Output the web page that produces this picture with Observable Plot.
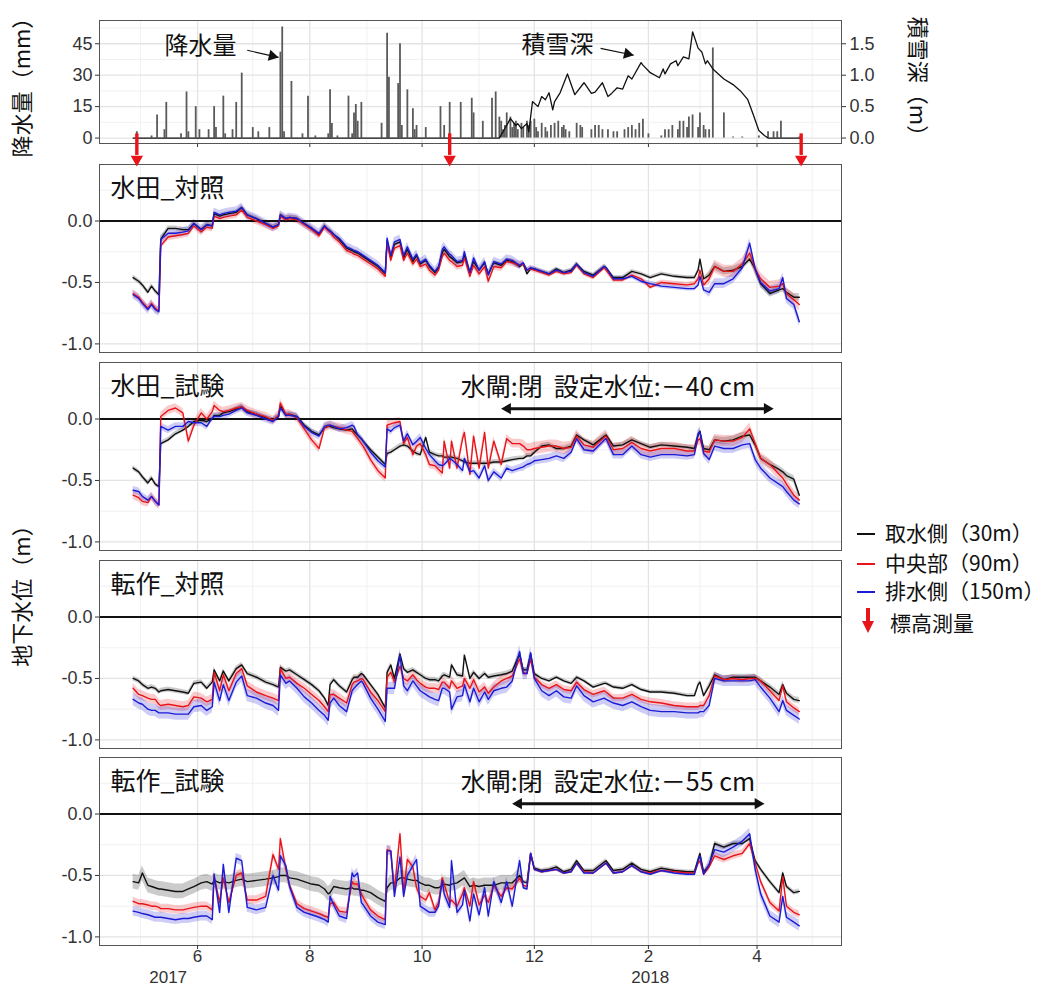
<!DOCTYPE html>
<html><head><meta charset="utf-8">
<script src="https://cdn.jsdelivr.net/npm/d3@7"></script>
<script src="https://cdn.jsdelivr.net/npm/@observablehq/plot@0.6"></script>
<style>
body{margin:0;background:#fff;}
#chart{position:relative;width:1048px;height:989px;overflow:hidden;font-family:"Noto Sans CJK JP",sans-serif;}
.pw{position:absolute;left:0;}
.pw svg{overflow:visible;}
.lg{position:absolute;left:857px;font-size:21px;line-height:26px;color:#111;white-space:nowrap;font-family:"Noto Sans CJK JP",sans-serif;}
.lg .sw{display:inline-block;width:18px;height:2px;vertical-align:middle;margin-right:10px;position:relative;top:-1px;}
</style></head>
<body>
<div id="chart">
  <div class="lg" style="top:519px"><span class="sw" style="background:#111"></span>取水側（30m）</div>
  <div class="lg" style="top:549px"><span class="sw" style="background:#e8141a"></span>中央部（90m）</div>
  <div class="lg" style="top:577px"><span class="sw" style="background:#1c1cd6"></span>排水側（150m）</div>
  <div style="position:absolute;left:866px;top:608px;width:3.5px;height:14px;background:#e8141a"></div>
  <div style="position:absolute;left:862px;top:621px;width:0;height:0;border-left:6px solid transparent;border-right:6px solid transparent;border-top:12px solid #e8141a"></div>
  <div class="lg" style="top:609px;left:890px">標高測量</div>
</div>
<script>
// ---------- data ----------
const seriesNames = ["取水側（30m）", "中央部（90m）", "排水側（150m）"];
const lineColors = ["#111111", "#e8141a", "#1c1cd6"];
const panelTitles = ["水田_対照", "水田_試験", "転作_対照", "転作_試験"];
const majorMonths = ["2017-06-01","2017-08-01","2017-10-01","2017-12-01","2018-02-01","2018-04-01"];
const minorMonths = ["2017-05-01","2017-07-01","2017-09-01","2017-11-01","2018-01-01","2018-03-01","2018-05-01"];
const yearLabels = ["2017", "2018"];
const yearLabelDates = ["2017-05-16", "2018-02-02"];
const gwTicks = [0, -0.5, -1];
const gwMinor = [0.25, -0.25, -0.75];
const precipTicks = [0, 15, 30, 45];
const precipMinor = [7.5, 22.5, 37.5, 52.5];
const surveyDates = ["2017-04-29", "2017-10-16", "2018-04-25"];
const gate2 = ["2017-11-13", "2018-04-10"];
const gate4 = ["2017-11-19", "2018-04-05"];
const gate2Text = "水閘:閉\u00A0\u00A0設定水位:－40 cm";
const gate4Text = "水閘:閉\u00A0\u00A0設定水位:－55 cm";

const precipDates = ["2017-04-29","2017-05-07","2017-05-10","2017-05-14","2017-05-15","2017-05-23","2017-05-26","2017-05-27","2017-05-31","2017-06-02",
"2017-06-07","2017-06-10","2017-06-11","2017-06-15","2017-06-16","2017-06-20","2017-06-22","2017-06-25","2017-07-01","2017-07-04",
"2017-07-10","2017-07-16","2017-07-17","2017-07-18","2017-07-22","2017-07-28","2017-07-31","2017-08-04","2017-08-11","2017-08-12",
"2017-08-13","2017-08-16","2017-08-22","2017-08-24","2017-08-25","2017-08-26","2017-08-27","2017-08-29","2017-09-09","2017-09-12",
"2017-09-13","2017-09-18","2017-09-19","2017-09-20","2017-09-23","2017-09-26","2017-09-27","2017-09-28","2017-10-03","2017-10-11",
"2017-10-13","2017-10-16","2017-10-22","2017-10-28","2017-10-29","2017-11-03","2017-11-08","2017-11-10","2017-11-12","2017-11-13",
"2017-11-14","2017-11-15","2017-11-16","2017-11-18","2017-11-19","2017-11-20","2017-11-21","2017-11-22","2017-11-24","2017-11-25",
"2017-11-27","2017-11-28","2017-11-29","2017-12-01","2017-12-02","2017-12-03","2017-12-05","2017-12-07","2017-12-08","2017-12-10",
"2017-12-12","2017-12-14","2017-12-16","2017-12-17","2017-12-18","2017-12-20","2017-12-24","2017-12-26","2017-12-27","2018-01-01",
"2018-01-03","2018-01-05","2018-01-07","2018-01-10","2018-01-13","2018-01-15","2018-01-19","2018-01-21","2018-01-23","2018-01-25",
"2018-01-27","2018-01-29","2018-02-01","2018-02-08","2018-02-10","2018-02-12","2018-02-14","2018-02-17","2018-02-18","2018-02-20",
"2018-02-22","2018-02-23","2018-02-25","2018-02-28","2018-03-01","2018-03-03","2018-03-04","2018-03-06","2018-03-08","2018-03-14",
"2018-03-19","2018-03-24","2018-04-02","2018-04-07","2018-04-10","2018-04-12","2018-04-14","2018-04-24"];
const precipMm = [3,1,11,4,17,2,22,3,15,4,
4,15,5,20,2,4,17,31,5,3,
5,41,53,3,27,2,20,1,2,23,
7,1,20,2,12,16,8,17,7,50,
29,26,45,6,23,14,4,6,5,15,
6,17,17,19,12,8,19,22,10,8,
4,6,12,10,5,7,8,4,7,5,
8,6,8,9,5,3,7,5,3,6,
7,8,5,6,4,3,7,6,5,4,
6,6,4,4,3,3,4,5,6,4,
7,9,2,1,4,4,6,4,8,8,
5,10,11,5,12,6,4,4,43,12,
0.5,0.5,1,3,3,3,8,0.5];

const snowDates = ["2017-04-27","2017-11-12","2017-11-15","2017-11-18","2017-11-21","2017-11-22","2017-11-24","2017-11-27","2017-11-28","2017-11-30",
"2017-12-03","2017-12-05","2017-12-07","2017-12-09","2017-12-11","2017-12-12","2017-12-15","2017-12-19","2017-12-23","2017-12-28",
"2018-01-01","2018-01-03","2018-01-07","2018-01-10","2018-01-12","2018-01-15","2018-01-18","2018-01-21","2018-01-23","2018-01-28",
"2018-01-29","2018-02-02","2018-02-07","2018-02-09","2018-02-10","2018-02-13","2018-02-16","2018-02-17","2018-02-20","2018-02-23",
"2018-02-25","2018-02-28","2018-03-02","2018-03-04","2018-03-05","2018-03-08","2018-03-14","2018-03-19","2018-03-23","2018-03-27",
"2018-03-30","2018-04-02","2018-04-05","2018-04-07","2018-04-25"];
const snowDepth = [0,0,0.15,0.31,0.20,0.23,0.15,0.23,0.10,0.58,
0.50,0.66,0.61,0.72,0.45,0.58,0.72,1.02,0.69,0.88,
0.71,0.73,0.88,0.66,0.71,0.80,0.78,0.99,0.94,1.20,
1.16,1.04,0.96,1.10,1.02,1.18,1.23,1.15,1.29,1.26,
1.69,1.43,1.37,1.18,1.23,1.10,0.94,0.85,0.75,0.61,
0.37,0.12,0.04,0,0];

const gridDates = [
"2017-04-27","2017-04-30","2017-05-02","2017-05-05","2017-05-07","2017-05-09","2017-05-11","2017-05-12","2017-05-16","2017-05-20",
"2017-05-24","2017-05-27","2017-05-30","2017-06-03","2017-06-06","2017-06-09","2017-06-10","2017-06-13","2017-06-15","2017-06-18",
"2017-06-22","2017-06-25","2017-06-28","2017-07-03","2017-07-08","2017-07-12","2017-07-15","2017-07-16","2017-07-19","2017-07-21",
"2017-07-25","2017-07-29","2017-08-02","2017-08-06","2017-08-09","2017-08-11","2017-08-12","2017-08-14","2017-08-17","2017-08-21",
"2017-08-24","2017-08-25","2017-08-27","2017-08-29","2017-08-30","2017-09-03","2017-09-07","2017-09-11","2017-09-12","2017-09-14",
"2017-09-16","2017-09-19","2017-09-21","2017-09-23","2017-09-26","2017-09-28","2017-09-30","2017-10-03","2017-10-05","2017-10-08",
"2017-10-10","2017-10-12","2017-10-13","2017-10-16","2017-10-17","2017-10-20","2017-10-23","2017-10-24","2017-10-27","2017-10-29",
"2017-11-01","2017-11-04","2017-11-06","2017-11-09","2017-11-13","2017-11-16","2017-11-19","2017-11-23","2017-11-25","2017-11-27",
"2017-11-29","2017-12-01","2017-12-05","2017-12-09","2017-12-13","2017-12-17","2017-12-21","2017-12-24","2017-12-28","2018-01-02",
"2018-01-08","2018-01-09","2018-01-13","2018-01-18","2018-01-23","2018-01-28","2018-02-02","2018-02-08","2018-02-15","2018-02-22",
"2018-02-26","2018-02-28","2018-03-01","2018-03-03","2018-03-06","2018-03-09","2018-03-14","2018-03-19","2018-03-24","2018-03-28",
"2018-03-31","2018-04-03","2018-04-08","2018-04-13","2018-04-15","2018-04-17","2018-04-21","2018-04-24"];

// 水田_対照
const p1Intake = [-0.46,-0.49,-0.52,-0.58,-0.53,-0.57,-0.60,-0.15,-0.06,-0.06,
-0.07,-0.07,-0.02,-0.07,-0.03,-0.04,0.06,0.04,0.05,0.06,
0.07,0.11,0.05,0.02,-0.02,-0.05,-0.03,0.05,0.02,0.03,
0.02,-0.02,-0.06,-0.11,-0.04,-0.07,-0.08,-0.11,-0.15,-0.22,
-0.24,-0.25,-0.26,-0.28,-0.29,-0.33,-0.37,-0.43,-0.16,-0.30,
-0.19,-0.17,-0.30,-0.23,-0.33,-0.28,-0.35,-0.32,-0.37,-0.42,
-0.38,-0.26,-0.23,-0.29,-0.30,-0.34,-0.33,-0.28,-0.42,-0.33,
-0.40,-0.34,-0.43,-0.34,-0.36,-0.32,-0.33,-0.37,-0.35,-0.43,
-0.39,-0.39,-0.41,-0.43,-0.39,-0.42,-0.40,-0.35,-0.41,-0.44,
-0.37,-0.38,-0.46,-0.46,-0.41,-0.43,-0.46,-0.43,-0.45,-0.46,
-0.46,-0.40,-0.31,-0.47,-0.44,-0.37,-0.41,-0.40,-0.37,-0.31,
-0.39,-0.51,-0.59,-0.56,-0.55,-0.58,-0.62,-0.62];
const p1Center = [-0.59,-0.62,-0.66,-0.71,-0.67,-0.71,-0.73,-0.20,-0.13,-0.12,
-0.11,-0.10,-0.04,-0.09,-0.05,-0.06,0.04,0.02,0.03,0.04,
0.05,0.09,0.03,0.00,-0.03,-0.06,-0.04,0.04,0.01,0.02,
0.01,-0.03,-0.07,-0.12,-0.05,-0.08,-0.09,-0.13,-0.17,-0.24,
-0.26,-0.27,-0.28,-0.30,-0.31,-0.35,-0.39,-0.45,-0.18,-0.32,
-0.22,-0.20,-0.32,-0.26,-0.35,-0.31,-0.37,-0.35,-0.40,-0.44,
-0.40,-0.29,-0.26,-0.32,-0.33,-0.37,-0.36,-0.30,-0.45,-0.36,
-0.43,-0.37,-0.49,-0.37,-0.38,-0.33,-0.34,-0.36,-0.35,-0.40,
-0.39,-0.40,-0.42,-0.44,-0.41,-0.43,-0.42,-0.36,-0.43,-0.46,
-0.38,-0.40,-0.48,-0.48,-0.44,-0.47,-0.54,-0.50,-0.51,-0.52,
-0.51,-0.47,-0.40,-0.52,-0.47,-0.37,-0.41,-0.41,-0.35,-0.26,
-0.39,-0.47,-0.54,-0.53,-0.51,-0.59,-0.64,-0.68];
const p1Drain = [-0.60,-0.63,-0.67,-0.72,-0.68,-0.72,-0.74,-0.15,-0.10,-0.10,
-0.09,-0.08,-0.02,-0.07,-0.03,-0.04,0.07,0.05,0.06,0.07,
0.08,0.11,0.05,0.02,-0.02,-0.05,-0.03,0.05,0.02,0.03,
0.02,-0.02,-0.06,-0.10,-0.04,-0.07,-0.08,-0.11,-0.14,-0.21,
-0.23,-0.24,-0.25,-0.27,-0.28,-0.32,-0.36,-0.42,-0.14,-0.28,
-0.17,-0.15,-0.28,-0.21,-0.31,-0.27,-0.34,-0.31,-0.36,-0.41,
-0.37,-0.23,-0.21,-0.27,-0.28,-0.33,-0.32,-0.25,-0.42,-0.30,
-0.40,-0.33,-0.44,-0.33,-0.35,-0.31,-0.32,-0.36,-0.34,-0.40,
-0.38,-0.39,-0.41,-0.43,-0.40,-0.42,-0.41,-0.35,-0.42,-0.45,
-0.37,-0.38,-0.47,-0.47,-0.45,-0.49,-0.51,-0.53,-0.54,-0.55,
-0.55,-0.52,-0.45,-0.56,-0.58,-0.51,-0.51,-0.47,-0.38,-0.18,
-0.39,-0.50,-0.57,-0.55,-0.46,-0.63,-0.68,-0.82];

// 水田_試験
const p2Intake = [-0.40,-0.43,-0.47,-0.52,-0.48,-0.53,-0.55,-0.20,-0.17,-0.12,
-0.09,-0.06,-0.02,-0.01,-0.02,0.00,0.03,0.03,0.05,0.06,
0.08,0.10,0.06,0.04,0.01,-0.01,0.02,0.11,0.03,0.04,
0.02,-0.05,-0.10,-0.13,-0.07,-0.06,-0.06,-0.07,-0.08,-0.09,
-0.08,-0.10,-0.13,-0.16,-0.18,-0.25,-0.31,-0.37,-0.28,-0.27,
-0.25,-0.22,-0.21,-0.22,-0.26,-0.28,-0.29,-0.15,-0.27,-0.29,
-0.30,-0.30,-0.31,-0.31,-0.31,-0.32,-0.34,-0.35,-0.36,-0.36,
-0.36,-0.36,-0.36,-0.35,-0.35,-0.34,-0.33,-0.32,-0.32,-0.30,
-0.30,-0.27,-0.22,-0.21,-0.24,-0.24,-0.22,-0.13,-0.17,-0.21,
-0.14,-0.13,-0.22,-0.21,-0.17,-0.20,-0.23,-0.21,-0.22,-0.23,
-0.24,-0.13,-0.10,-0.24,-0.25,-0.17,-0.18,-0.17,-0.14,-0.13,
-0.21,-0.32,-0.37,-0.41,-0.43,-0.46,-0.49,-0.62];
const p2Center = [-0.62,-0.64,-0.67,-0.68,-0.63,-0.67,-0.70,0.02,0.07,0.09,
0.05,-0.18,-0.05,0.05,0.00,0.06,0.11,0.07,0.06,0.07,
0.09,0.10,0.07,0.04,0.02,-0.01,0.03,0.13,0.04,0.04,
0.01,-0.08,-0.17,-0.24,-0.07,-0.06,-0.05,-0.06,-0.07,-0.09,
-0.10,-0.12,-0.16,-0.20,-0.22,-0.33,-0.42,-0.48,-0.05,-0.04,
-0.03,-0.02,-0.20,-0.15,-0.29,-0.22,-0.20,-0.29,-0.37,-0.38,
-0.41,-0.44,-0.18,-0.40,-0.18,-0.40,-0.16,-0.11,-0.45,-0.14,
-0.40,-0.11,-0.40,-0.18,-0.37,-0.16,-0.20,-0.20,-0.22,-0.25,
-0.25,-0.24,-0.23,-0.22,-0.22,-0.24,-0.23,-0.14,-0.21,-0.23,
-0.15,-0.14,-0.25,-0.24,-0.19,-0.24,-0.26,-0.24,-0.24,-0.26,
-0.26,-0.17,-0.16,-0.26,-0.27,-0.17,-0.18,-0.18,-0.15,-0.08,
-0.20,-0.32,-0.37,-0.45,-0.48,-0.53,-0.62,-0.66];
const p2Drain = [-0.58,-0.59,-0.63,-0.66,-0.63,-0.67,-0.70,-0.06,-0.09,-0.06,
-0.06,-0.02,-0.03,-0.03,-0.06,0.01,0.02,0.02,0.03,0.04,
0.07,0.09,0.05,0.03,0.00,-0.02,0.02,0.09,0.03,0.03,
0.02,-0.06,-0.11,-0.14,-0.06,-0.05,-0.05,-0.06,-0.08,-0.07,
-0.05,-0.06,-0.13,-0.16,-0.18,-0.27,-0.34,-0.39,-0.08,-0.10,
-0.07,-0.05,-0.18,-0.12,-0.21,-0.18,-0.15,-0.24,-0.29,-0.34,
-0.37,-0.38,-0.37,-0.32,-0.33,-0.37,-0.42,-0.32,-0.43,-0.42,
-0.48,-0.38,-0.50,-0.43,-0.48,-0.40,-0.42,-0.40,-0.39,-0.37,
-0.36,-0.34,-0.33,-0.32,-0.30,-0.32,-0.27,-0.16,-0.25,-0.26,
-0.17,-0.16,-0.29,-0.29,-0.22,-0.29,-0.31,-0.29,-0.29,-0.30,
-0.29,-0.12,-0.10,-0.28,-0.33,-0.22,-0.24,-0.24,-0.21,-0.20,
-0.33,-0.40,-0.48,-0.53,-0.55,-0.59,-0.66,-0.69];

// 転作_対照
const p3Intake = [-0.50,-0.52,-0.55,-0.58,-0.57,-0.58,-0.61,-0.60,-0.59,-0.60,
-0.61,-0.62,-0.54,-0.53,-0.58,-0.53,-0.43,-0.52,-0.44,-0.52,
-0.42,-0.39,-0.46,-0.49,-0.53,-0.55,-0.57,-0.41,-0.44,-0.43,
-0.47,-0.51,-0.55,-0.60,-0.66,-0.72,-0.55,-0.51,-0.56,-0.61,
-0.51,-0.49,-0.49,-0.46,-0.47,-0.55,-0.63,-0.74,-0.45,-0.39,
-0.50,-0.30,-0.42,-0.45,-0.43,-0.45,-0.47,-0.50,-0.51,-0.51,
-0.52,-0.48,-0.47,-0.49,-0.39,-0.47,-0.48,-0.31,-0.50,-0.45,
-0.50,-0.46,-0.49,-0.48,-0.47,-0.46,-0.44,-0.30,-0.43,-0.43,
-0.30,-0.46,-0.50,-0.52,-0.49,-0.52,-0.54,-0.49,-0.52,-0.57,
-0.54,-0.54,-0.57,-0.58,-0.55,-0.59,-0.61,-0.61,-0.62,-0.64,
-0.64,-0.55,-0.53,-0.64,-0.56,-0.47,-0.51,-0.49,-0.49,-0.49,
-0.49,-0.52,-0.57,-0.63,-0.55,-0.62,-0.67,-0.68];
const p3Center = [-0.58,-0.63,-0.64,-0.66,-0.67,-0.67,-0.71,-0.72,-0.71,-0.72,
-0.73,-0.72,-0.65,-0.66,-0.69,-0.67,-0.45,-0.60,-0.47,-0.60,
-0.46,-0.42,-0.56,-0.61,-0.64,-0.66,-0.68,-0.42,-0.50,-0.49,
-0.54,-0.58,-0.63,-0.68,-0.73,-0.77,-0.63,-0.63,-0.66,-0.70,
-0.55,-0.53,-0.52,-0.50,-0.51,-0.61,-0.68,-0.77,-0.49,-0.45,
-0.53,-0.40,-0.50,-0.52,-0.47,-0.51,-0.54,-0.57,-0.58,-0.58,
-0.59,-0.53,-0.53,-0.58,-0.52,-0.58,-0.56,-0.50,-0.58,-0.51,
-0.61,-0.57,-0.62,-0.57,-0.52,-0.50,-0.48,-0.34,-0.45,-0.46,
-0.34,-0.49,-0.55,-0.58,-0.55,-0.59,-0.60,-0.53,-0.59,-0.63,
-0.60,-0.61,-0.66,-0.66,-0.63,-0.67,-0.69,-0.70,-0.72,-0.73,
-0.73,-0.73,-0.72,-0.72,-0.64,-0.48,-0.51,-0.50,-0.51,-0.50,
-0.50,-0.52,-0.60,-0.68,-0.56,-0.69,-0.74,-0.77];
const p3Drain = [-0.67,-0.70,-0.71,-0.75,-0.76,-0.76,-0.78,-0.78,-0.78,-0.79,
-0.79,-0.79,-0.73,-0.72,-0.76,-0.73,-0.53,-0.68,-0.55,-0.68,
-0.53,-0.48,-0.64,-0.66,-0.70,-0.72,-0.76,-0.47,-0.54,-0.52,
-0.58,-0.65,-0.70,-0.76,-0.80,-0.84,-0.70,-0.66,-0.72,-0.77,
-0.60,-0.58,-0.55,-0.52,-0.54,-0.66,-0.75,-0.85,-0.58,-0.58,
-0.58,-0.31,-0.56,-0.60,-0.52,-0.56,-0.60,-0.63,-0.65,-0.67,
-0.68,-0.58,-0.58,-0.61,-0.75,-0.65,-0.64,-0.55,-0.69,-0.58,
-0.69,-0.61,-0.67,-0.60,-0.58,-0.57,-0.52,-0.28,-0.46,-0.46,
-0.29,-0.50,-0.60,-0.64,-0.60,-0.65,-0.66,-0.56,-0.64,-0.69,
-0.66,-0.67,-0.70,-0.72,-0.69,-0.73,-0.76,-0.77,-0.77,-0.78,
-0.78,-0.78,-0.77,-0.77,-0.72,-0.50,-0.52,-0.52,-0.52,-0.52,
-0.51,-0.57,-0.66,-0.77,-0.68,-0.76,-0.80,-0.83];

// 転作_試験
const p4Intake = [-0.55,-0.56,-0.48,-0.58,-0.59,-0.60,-0.61,-0.61,-0.62,-0.63,
-0.63,-0.61,-0.59,-0.56,-0.55,-0.57,-0.54,-0.56,-0.55,-0.56,
-0.54,-0.53,-0.55,-0.54,-0.53,-0.52,-0.51,-0.50,-0.50,-0.52,
-0.53,-0.55,-0.57,-0.58,-0.61,-0.65,-0.64,-0.59,-0.60,-0.61,
-0.60,-0.61,-0.61,-0.62,-0.62,-0.64,-0.68,-0.71,-0.60,-0.56,
-0.56,-0.52,-0.52,-0.53,-0.54,-0.54,-0.56,-0.58,-0.58,-0.60,
-0.60,-0.58,-0.57,-0.58,-0.57,-0.56,-0.53,-0.52,-0.59,-0.58,
-0.59,-0.58,-0.58,-0.58,-0.56,-0.56,-0.56,-0.50,-0.55,-0.56,
-0.32,-0.44,-0.46,-0.45,-0.43,-0.47,-0.45,-0.38,-0.46,-0.46,
-0.39,-0.38,-0.46,-0.45,-0.40,-0.45,-0.47,-0.44,-0.46,-0.47,
-0.47,-0.37,-0.32,-0.47,-0.42,-0.24,-0.27,-0.24,-0.24,-0.20,
-0.38,-0.45,-0.55,-0.64,-0.48,-0.59,-0.64,-0.63];
const p4Center = [-0.71,-0.73,-0.73,-0.74,-0.75,-0.75,-0.76,-0.77,-0.77,-0.78,
-0.78,-0.77,-0.76,-0.75,-0.75,-0.78,-0.51,-0.72,-0.52,-0.72,
-0.50,-0.48,-0.70,-0.70,-0.67,-0.33,-0.45,-0.20,-0.45,-0.58,
-0.73,-0.77,-0.79,-0.81,-0.83,-0.84,-0.73,-0.72,-0.79,-0.80,
-0.55,-0.57,-0.57,-0.65,-0.68,-0.78,-0.83,-0.86,-0.29,-0.30,
-0.62,-0.16,-0.64,-0.37,-0.43,-0.60,-0.67,-0.70,-0.64,-0.78,
-0.72,-0.52,-0.57,-0.72,-0.70,-0.75,-0.65,-0.60,-0.75,-0.55,
-0.74,-0.66,-0.72,-0.58,-0.67,-0.60,-0.61,-0.52,-0.58,-0.59,
-0.32,-0.45,-0.47,-0.46,-0.45,-0.48,-0.47,-0.40,-0.47,-0.48,
-0.41,-0.40,-0.48,-0.47,-0.42,-0.47,-0.48,-0.46,-0.47,-0.48,
-0.48,-0.40,-0.38,-0.49,-0.43,-0.34,-0.37,-0.34,-0.32,-0.24,
-0.40,-0.55,-0.72,-0.79,-0.51,-0.75,-0.80,-0.82];
const p4Drain = [-0.79,-0.80,-0.81,-0.82,-0.83,-0.84,-0.84,-0.84,-0.85,-0.86,
-0.85,-0.85,-0.84,-0.83,-0.83,-0.86,-0.49,-0.80,-0.41,-0.80,
-0.36,-0.38,-0.76,-0.78,-0.76,-0.50,-0.62,-0.34,-0.42,-0.59,
-0.76,-0.80,-0.82,-0.84,-0.86,-0.88,-0.67,-0.74,-0.83,-0.85,
-0.48,-0.51,-0.48,-0.72,-0.74,-0.83,-0.88,-0.90,-0.30,-0.30,
-0.67,-0.35,-0.67,-0.50,-0.42,-0.37,-0.75,-0.78,-0.80,-0.80,
-0.75,-0.54,-0.65,-0.76,-0.38,-0.80,-0.74,-0.62,-0.87,-0.65,
-0.82,-0.60,-0.83,-0.55,-0.72,-0.55,-0.75,-0.38,-0.60,-0.61,
-0.32,-0.45,-0.47,-0.46,-0.45,-0.48,-0.47,-0.40,-0.48,-0.48,
-0.41,-0.40,-0.48,-0.47,-0.42,-0.47,-0.49,-0.46,-0.48,-0.49,
-0.49,-0.38,-0.34,-0.49,-0.41,-0.29,-0.31,-0.27,-0.22,-0.16,
-0.45,-0.65,-0.83,-0.88,-0.67,-0.84,-0.88,-0.91];

// ribbon half-widths (m) for three periods starting at spreadStarts
const spreadStarts = ["2017-04-27", "2017-11-25", "2018-03-05"];
const p1Spread = [[0.02,0.015,0.03],[0.03,0.02,0.05],[0.035,0.02,0.04]];
const p2Spread = [[0.02,0.02,0.03],[0.035,0.05,0.045],[0.03,0.035,0.04]];
const p3Spread = [[0.02,0.015,0.025],[0.04,0.03,0.03],[0.05,0.05,0.045]];
const p4Spread = [[0.06,0.015,0.02],[0.035,0.015,0.03],[0.04,0.015,0.045]];

// ---------- build ----------
const toDate = s => new Date(s + "T00:00:00Z");
const FONT = '"Liberation Sans","Noto Sans CJK JP",sans-serif';
const JP = '"Noto Sans CJK JP",sans-serif';
const xDomain = [new Date("2017-04-08T17:00:00Z"), new Date("2018-05-16T22:00:00Z")];
const gwDomain = [-1.07, 0.46];
const W = 1048, ML = 99, MR = 207;
const gridDatesD = gridDates.map(toDate);
const spreadStartsD = spreadStarts.map(toDate);
const majorD = majorMonths.map(toDate), minorD = minorMonths.map(toDate);
const colorScale = {domain: seriesNames, range: lineColors};
const baseStyle = {background: "transparent", overflow: "visible", fontFamily: FONT, fontSize: "18px", color: "#333"};

function seriesRows(vals, spreads, name) {
  return vals.map((v, i) => {
    const dt = gridDatesD[i];
    let k = 0;
    for (let j = 0; j < spreadStartsD.length; j++) if (dt >= spreadStartsD[j]) k = j;
    const s = spreads[k];
    return {date: dt, value: v, lo: v - s, hi: v + s, series: name};
  });
}

function gridMarks(yMajor, yMinor) {
  return [
    Plot.gridX(minorD, {stroke: "#ededed", strokeOpacity: 1, strokeWidth: 0.8}),
    Plot.gridX(majorD, {stroke: "#e3e3e3", strokeOpacity: 1, strokeWidth: 1.3}),
    Plot.gridY(yMinor, {stroke: "#ededed", strokeOpacity: 1, strokeWidth: 0.8}),
    Plot.gridY(yMajor, {stroke: "#e3e3e3", strokeOpacity: 1, strokeWidth: 1.3})
  ];
}

function gwPanel(idx, series, spreads, extra, last) {
  const rows = [
    ...seriesRows(series[0], spreads[0], seriesNames[0]),
    ...seriesRows(series[1], spreads[1], seriesNames[1]),
    ...seriesRows(series[2], spreads[2], seriesNames[2])
  ];
  const marks = [
    ...gridMarks(gwTicks, gwMinor),
    Plot.areaY(rows, {x: "date", y1: "lo", y2: "hi", z: "series", fill: "series", fillOpacity: 0.22}),
    Plot.ruleY([0], {stroke: "#111", strokeWidth: 1.8}),
    Plot.lineY(rows, {x: "date", y: "value", z: "series", stroke: "series", strokeWidth: 1.4}),
    Plot.axisY(gwTicks, {tickFormat: d => d.toFixed(1), tickSize: 4, tickPadding: 3, fontSize: 18}),
    Plot.frame({stroke: "#555"}),
    Plot.text([panelTitles[idx]], {frameAnchor: "top-left", dx: 11, dy: 24, textAnchor: "start", lineAnchor: "middle", fontSize: 25, fontFamily: JP, fill: "#111"}),
    ...extra
  ];
  if (last) {
    marks.push(
      Plot.axisX(majorD, {tickFormat: d => String(d.getUTCMonth() + 1), tickSize: 4, tickPadding: 0, fontSize: 17}),
      Plot.text(yearLabels, {x: (d, i) => toDate(yearLabelDates[i]), text: d => d, frameAnchor: "bottom", dy: 37, fontSize: 17, fill: "#333"})
    );
  }
  return Plot.plot({
    width: W, height: last ? 188 + 44 : 188,
    marginLeft: ML, marginRight: MR, marginTop: 0, marginBottom: last ? 44 : 0,
    x: {type: "utc", domain: xDomain, label: null, axis: last ? undefined : null},
    y: {domain: gwDomain, label: null},
    color: colorScale,
    style: baseStyle,
    marks
  });
}

function gateMarks(gate, text) {
  const g = gate.map(toDate);
  return [
    Plot.text([text], {x: toDate("2017-10-22"), y: 0.254, textAnchor: "start", fontSize: 25, fontFamily: JP, fill: "#111"}),
    Plot.ruleY([0.084], {x1: g[0], x2: g[1], stroke: "#111", strokeWidth: 3, insetLeft: 6, insetRight: 6}),
    Plot.dot([g[0]], {x: d => d, y: 0.084, symbol: "triangle", rotate: -90, r: 4.2, fill: "#111", stroke: null, dx: 6.4}),
    Plot.dot([g[1]], {x: d => d, y: 0.084, symbol: "triangle", rotate: 90, r: 4.2, fill: "#111", stroke: null, dx: -6.4})
  ];
}

const chart = document.getElementById("chart");
function place(svg, top, z) {
  const d = document.createElement("div");
  d.className = "pw"; d.style.top = top + "px"; d.style.zIndex = z;
  d.appendChild(svg); chart.appendChild(d);
}

place(gwPanel(0, [p1Intake, p1Center, p1Drain], p1Spread, [], false), 164, 1);
place(gwPanel(1, [p2Intake, p2Center, p2Drain], p2Spread, gateMarks(gate2, gate2Text), false), 362, 1);
place(gwPanel(2, [p3Intake, p3Center, p3Drain], p3Spread, [
  Plot.text(["地下水位（m）"], {frameAnchor: "left", dx: -77, dy: -64, rotate: -90, textAnchor: "middle", fontSize: 22, fontFamily: JP, fill: "#111"})
], false), 560, 1);
place(gwPanel(3, [p4Intake, p4Center, p4Drain], p4Spread, gateMarks(gate4, gate4Text), true), 757, 1);

// top panel
const precipRows = precipDates.map((s, i) => ({date: toDate(s), mm: precipMm[i]}));
const snowRows = snowDates.map((s, i) => ({date: toDate(s), depth: snowDepth[i]}));
const snowToMm = 30; // secondary axis: 1.5 m ↔ 45 mm
const surveyD = surveyDates.map(toDate);
const topPlot = Plot.plot({
  width: W, height: 175,
  marginLeft: ML, marginRight: MR, marginTop: 20, marginBottom: 32,
  x: {type: "utc", domain: xDomain, label: null},
  y: {domain: [-2.6, 56.1], label: null},
  style: baseStyle,
  marks: [
    ...gridMarks(precipTicks, precipMinor),
    Plot.ruleX(precipRows, {x: "date", y: "mm", stroke: "#5a5a5a", strokeWidth: 1.8}),
    Plot.lineY(snowRows, {x: "date", y: d => d.depth * snowToMm, stroke: "#111", strokeWidth: 1.3}),
    Plot.axisY(precipTicks, {anchor: "left", tickSize: 4, tickPadding: 3, fontSize: 18}),
    Plot.axisY(precipTicks, {anchor: "right", tickSize: 4, tickPadding: 4, fontSize: 18, tickFormat: d => (d / snowToMm).toFixed(1)}),
    Plot.axisX(majorD, {tickFormat: () => "", tickSize: 4}),
    Plot.frame({stroke: "#555"}),
    Plot.text(["降水量"], {x: toDate("2017-05-14"), y: 43.8, textAnchor: "start", fontSize: 24, fontFamily: JP, fill: "#111"}),
    Plot.link([0], {x1: toDate("2017-06-28"), y1: 41.9, x2: toDate("2017-07-15"), y2: 38.5, stroke: "#111", strokeWidth: 1.2}),
    Plot.dot([0], {x: toDate("2017-07-15"), y: 38.5, symbol: "triangle", rotate: 103, r: 4.2, fill: "#111", stroke: null, dx: -6.3, dy: -1.4}),
    Plot.text(["積雪深"], {x: toDate("2017-11-24"), y: 44.2, textAnchor: "start", fontSize: 24, fontFamily: JP, fill: "#111"}),
    Plot.link([0], {x1: toDate("2018-01-06"), y1: 42.8, x2: toDate("2018-01-24"), y2: 39.5, stroke: "#111", strokeWidth: 1.2}),
    Plot.dot([0], {x: toDate("2018-01-24"), y: 39.5, symbol: "triangle", rotate: 103, r: 4.2, fill: "#111", stroke: null, dx: -6.3, dy: -1.4}),
    Plot.text(["降水量（mm）"], {frameAnchor: "left", dx: -77, rotate: -90, textAnchor: "middle", fontSize: 22, fontFamily: JP, fill: "#111"}),
    Plot.text(["積雪深（m）"], {frameAnchor: "right", dx: 76, rotate: 90, textAnchor: "middle", fontSize: 22, fontFamily: JP, fill: "#111"}),
    Plot.ruleX(surveyD, {x: d => d, y1: 2, y2: -8.3, stroke: "#e8141a", strokeWidth: 3.4}),
    Plot.dot(surveyD, {x: d => d, y: -10.2, symbol: "triangle", rotate: 180, r: 4.6, fill: "#e8141a", stroke: null})
  ]
});
place(topPlot, 0, 3);
</script>
</body></html>
